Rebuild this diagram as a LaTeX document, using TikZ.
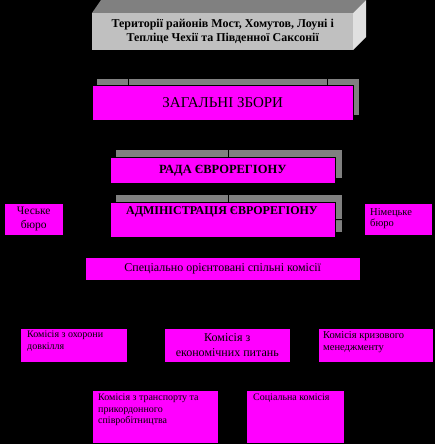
\documentclass[tikz,border=0pt]{standalone}
\usepackage{fontspec}
\setmainfont{Liberation Serif}
\usetikzlibrary{calc}
\pgfdeclarelayer{backdrop}
\pgfdeclarelayer{mid}
\pgfsetlayers{backdrop,mid,main}
\definecolor{mag}{HTML}{FF00FF}
\definecolor{shad}{HTML}{808080}
\definecolor{face}{HTML}{C0C0C0}
\definecolor{side}{HTML}{E0E0E0}
\begin{document}
\begin{tikzpicture}[x=1pt,y=-1pt,
  box/.style={fill=mag, draw=black, line width=0.5pt, inner sep=0pt, anchor=north west, text=black},
  txt/.style={inner sep=0pt, text=black, align=left, anchor=north west},
  link/.style={draw=black, line width=1pt}]
\begin{pgfonlayer}{backdrop}
\fill[black] (0,0) rectangle (435,444);
% shadows
\fill[shad] (97,79) rectangle (359,115);
\fill[shad] (116,150) rectangle (342,178);
\fill[shad] (116,195) rectangle (342,232);
% 3D faces of the top block
\fill[shad] (92,13) -- (101,0) -- (366,0) -- (353,13) -- cycle;
\fill[side] (353,13) -- (366,0) -- (366,37) -- (353,50) -- cycle;
\end{pgfonlayer}
\useasboundingbox (0,0) rectangle (435,444);

\node[box, fill=face, draw=none, minimum width=261pt, minimum height=37pt, align=center,
  font=\bfseries\fontsize{12}{14}\selectfont] (terr) at (92,13)
  {Території районів Мост, Хомутов, Лоуні і\\Тепліце Чехії та Південної Саксонії};

\node[box, minimum width=261pt, minimum height=35pt, font=\fontsize{15}{17}\selectfont] (zb) at (92,85) {ЗАГАЛЬНІ ЗБОРИ};

\node[box, minimum width=225pt, minimum height=26pt, font=\bfseries\fontsize{12.5}{15}\selectfont] (rada) at (110,157) {РАДА ЄВРОРЕГІОНУ};

\node[box, minimum width=225pt, minimum height=35pt] (adm) at (110,202) {};
\node[inner sep=0pt, text=black, font=\bfseries\fontsize{12}{14}\selectfont] (admt) at (222,212) {АДМІНІСТРАЦІЯ ЄВРОРЕГІОНУ};

\node[box, minimum width=59pt, minimum height=32pt, align=center, font=\fontsize{11.5}{14}\selectfont] (cz) at (4,203) {Чеське\\бюро};
\node[box, minimum width=68pt, minimum height=32pt] (nz) at (364,203) {};
\node[txt, font=\fontsize{10.5}{11.5}\selectfont] (nzt) at (370,208) {Німецьке\\бюро};

\node[box, minimum width=275pt, minimum height=23pt, font=\fontsize{12}{14}\selectfont] (spec) at (85,257) {Спеціально орієнтовані спільні комісії};

\node[box, minimum width=107pt, minimum height=34pt] (k1) at (20,328) {};
\node[txt, font=\fontsize{10}{12}\selectfont] (k1t) at (27,331) {Комісія з охорони\\довкілля};

\node[box, minimum width=126pt, minimum height=34pt, align=center, font=\fontsize{12}{15}\selectfont] (k2) at (164,328) {Комісія з\\економічних питань};

\node[box, minimum width=115pt, minimum height=34pt] (k3) at (318,328) {};
\node[txt, font=\fontsize{10.5}{12}\selectfont] (k3t) at (323,331) {Комісія кризового\\менеджменту};

\node[box, minimum width=126pt, minimum height=53pt] (k4) at (92,390) {};
\node[txt, font=\fontsize{10}{11.5}\selectfont] (k4t) at (98,394) {Комісія з транспорту та\\прикордонного\\співробітництва};

\node[box, minimum width=98pt, minimum height=53pt] (k5) at (246,390) {};
\node[txt, font=\fontsize{10}{11.5}\selectfont] (k5t) at (253,394) {Соціальна комісія};

\coordinate (cx) at (228,0);
\begin{pgfonlayer}{mid}
\draw[link] ($(terr.south west)+(36,0)$) -- ($(zb.north west)+(36,0)$);
\draw[link] ($(terr.south west)+(235,0)$) -- ($(zb.north west)+(235,0)$);
\draw[link] (zb.south -| cx) -- (rada.north -| cx);
\draw[link] (rada.south -| cx) -- (adm.north -| cx);
\draw[link] (cz.east) -- (adm.west);
\draw[link] (adm.east) -- (nz.west);
\end{pgfonlayer}
\end{tikzpicture}
\end{document}
